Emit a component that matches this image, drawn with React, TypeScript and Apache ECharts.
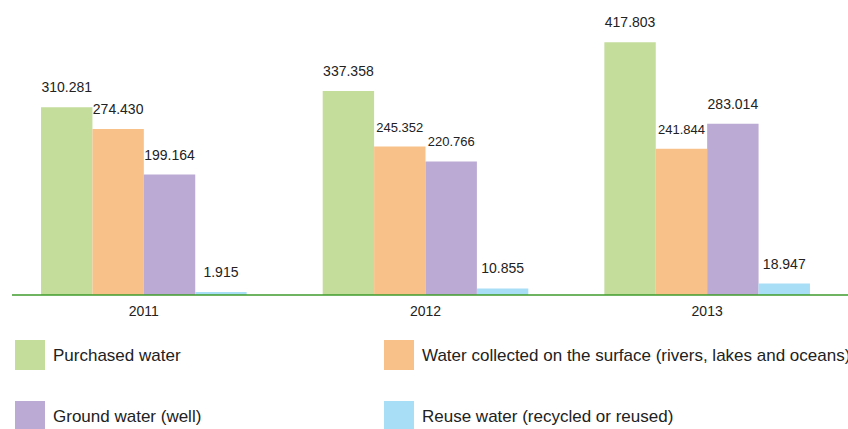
import React, { useEffect, useRef } from "react";
import * as echarts from "echarts";

const categories = ["2011", "2012", "2013"];
const purchased = [310.281, 337.358, 417.803];
const surface = [274.43, 245.352, 241.844];
const ground = [199.164, 220.766, 283.014];
const reuse = [1.915, 10.855, 18.947];
const seriesNames = [
  "Purchased water",
  "Water collected on the surface (rivers, lakes and oceans)",
  "Ground water (well)",
  "Reuse water (recycled or reused)",
];

const colors = ["#c4dd9b", "#f9c18a", "#bbaad3", "#a9def7"];
const FONT = "'Liberation Sans', Arial, Helvetica, sans-serif";
// smaller label font for a few labels (series index -> data indices)
const smallLabels: Record<number, number[]> = { 1: [1, 2], 2: [1] };

export default function App() {
  const ref = useRef<HTMLDivElement>(null);
  useEffect(() => {
    if (!ref.current) return;
    const chart = echarts.init(ref.current, undefined, { renderer: "svg" });
    const gridBottom = 134;
    const all = [purchased, surface, ground, reuse];
    const series = all.map((vals, si) => ({
      name: seriesNames[si],
      type: "bar",
      barWidth: 51.4,
      barGap: "0%",
      barMinHeight: 3,
      itemStyle: { color: colors[si] },
      label: {
        show: true,
        position: "top",
        distance: 13,
        color: "#222",
        fontSize: 14,
        fontFamily: FONT,
        formatter: (p: any) => Number(p.value).toFixed(3),
      },
      data: vals.map((v, di) =>
        smallLabels[si] && smallLabels[si].includes(di)
          ? { value: v, label: { fontSize: 13 } }
          : v
      ),
    }));
    const legendCommon = {
      orient: "vertical",
      top: 340,
      height: 150,
      padding: 0,
      itemWidth: 30,
      itemHeight: 30,
      itemGap: 31,
      icon: "rect",
      textStyle: { color: "#222", fontSize: 17, fontFamily: FONT, padding: [0, 0, 0, 3] },
    };
    chart.setOption({
      animation: false,
      grid: { left: 3, right: -7, top: 22.8, bottom: gridBottom, containLabel: false },
      xAxis: {
        type: "category",
        data: categories,
        axisLine: { show: false },
        axisTick: { show: false },
        axisLabel: { color: "#222", fontSize: 14, fontFamily: FONT, margin: 9 },
      },
      yAxis: {
        type: "value",
        min: 0,
        max: 450,
        show: false,
        splitLine: { show: false },
      },
      legend: [
        { ...legendCommon, data: [seriesNames[0], seriesNames[2]], left: 15 },
        { ...legendCommon, data: [seriesNames[1], seriesNames[3]], left: 384 },
      ],
      graphic: [
        {
          type: "line",
          shape: { x1: 12, y1: 429 - gridBottom, x2: 848, y2: 429 - gridBottom },
          style: { stroke: "#3f9d2c", lineWidth: 1.6 },
          z: 10,
        },
      ],
      series,
    });
    return () => chart.dispose();
  }, []);
  return <div ref={ref} style={{ width: 848, height: 429, position: "fixed", left: 0, top: 0, background: "#fff" }} />;
}
